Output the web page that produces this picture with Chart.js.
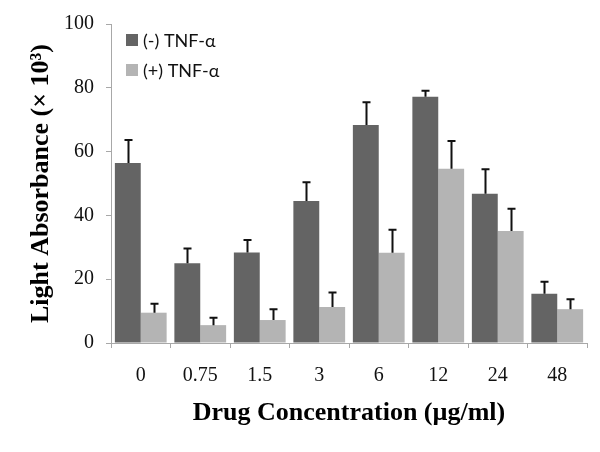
<!DOCTYPE html>
<html>
<head>
<meta charset="utf-8">
<script src="https://cdn.jsdelivr.net/npm/chart.js@4.4.1/dist/chart.umd.min.js"></script>
<style>
html,body{margin:0;padding:0;background:#fff;}
#wrap{width:600px;height:452px;position:relative;}
</style>
</head>
<body>
<div id="wrap"><canvas id="c" width="600" height="452"></canvas></div>
<script>
const categories = ["0", "0.75", "1.5", "3", "6", "12", "24", "48"];
const minusTNF = [56.4, 25.0, 28.4, 44.5, 68.3, 77.2, 46.8, 15.4];
const minusTNFErr = [7.2, 4.6, 3.9, 5.9, 7.2, 1.9, 7.7, 3.8];
const plusTNF = [9.5, 5.6, 7.2, 11.3, 28.3, 54.6, 35.1, 10.6];
const plusTNFErr = [2.8, 2.3, 3.4, 4.5, 7.2, 8.7, 7.0, 3.1];
const yTicks = [0, 20, 40, 60, 80, 100];
const seriesLabels = ["(-) TNF-α", "(+) TNF-α"];
const xTitle = "Drug Concentration (µg/ml)";
const yTitle = "Light Absorbance (× 10³)";

const errorBars = {
  id: 'errorBars',
  afterDatasetsDraw(chart) {
    const ctx = chart.ctx;
    const y = chart.scales.y;
    ctx.save();
    ctx.strokeStyle = '#111';
    ctx.lineWidth = 2;
    chart.data.datasets.forEach((ds, di) => {
      const meta = chart.getDatasetMeta(di);
      meta.data.forEach((bar, i) => {
        const v = ds.data[i], e = ds.errors[i];
        const x = Math.round(bar.x) + 0.5;
        const yTop = y.getPixelForValue(v + e);
        const yBar = y.getPixelForValue(v);
        ctx.beginPath();
        ctx.moveTo(x, yBar);
        ctx.lineTo(x, yTop);
        ctx.moveTo(x - 4, yTop);
        ctx.lineTo(x + 4, yTop);
        ctx.stroke();
      });
    });
    ctx.restore();
  }
};

const innerLegend = {
  id: 'innerLegend',
  afterDraw(chart) {
    const ctx = chart.ctx;
    const a = chart.chartArea;
    ctx.save();
    ctx.font = '18px Lato';
    ctx.textBaseline = 'middle';
    chart.data.datasets.forEach((ds, i) => {
      const cy = a.top + 16 + i * 30;
      ctx.fillStyle = ds.backgroundColor;
      ctx.fillRect(a.left + 15, cy - 6, 12, 12);
      ctx.fillStyle = '#111';
      ctx.fillText(ds.label, a.left + 32, cy + 1);
    });
    ctx.restore();
  }
};

new Chart(document.getElementById('c'), {
  type: 'bar',
  data: {
    labels: categories,
    datasets: [
      { label: seriesLabels[0], data: minusTNF, errors: minusTNFErr, backgroundColor: '#646464',
        categoryPercentage: 0.87, barPercentage: 1.0 },
      { label: seriesLabels[1], data: plusTNF, errors: plusTNFErr, backgroundColor: '#b4b4b4',
        categoryPercentage: 0.87, barPercentage: 1.0 }
    ]
  },
  options: {
    responsive: false,
    animation: false,
    devicePixelRatio: 1,
    layout: { padding: { top: 24, right: 13, left: 0, bottom: 0 } },
    plugins: { legend: { display: false }, tooltip: { enabled: false } },
    scales: {
      x: {
        afterFit(s) { s.height = 109; },
        border: { display: true, color: '#a8a8a8', width: 1 },
        grid: { display: true, drawOnChartArea: false, drawTicks: true, tickLength: 5, color: '#a8a8a8', offset: true },
        ticks: { color: '#111', font: { family: 'Liberation Serif', size: 20 }, padding: 16, maxRotation: 0 },
        title: { display: true, text: xTitle, color: '#000',
                 font: { family: 'Liberation Serif', size: 26, weight: 'bold' }, padding: { bottom: 23, top: 0 } }
      },
      y: {
        min: 0, max: 100,
        afterFit(s) { s.width = 111; },
        afterBuildTicks(s) { s.ticks = yTicks.map(v => ({ value: v })); },
        border: { display: true, color: '#a8a8a8', width: 1 },
        grid: { display: true, drawOnChartArea: false, drawTicks: true, tickLength: 5, color: '#a8a8a8' },
        ticks: { color: '#111', font: { family: 'Liberation Serif', size: 20 }, padding: 12 },
        title: { display: true, text: yTitle, color: '#000',
                 font: { family: 'Liberation Serif', size: 26, weight: 'bold' }, padding: { top: 26, bottom: 0 } }
      }
    }
  },
  plugins: [errorBars, innerLegend]
});
</script>
</body>
</html>
